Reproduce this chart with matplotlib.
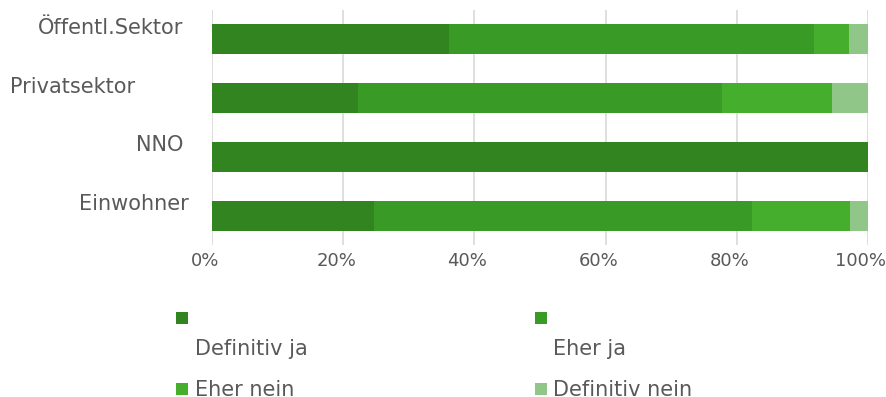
import numpy as np
import matplotlib
matplotlib.use("Agg")
import matplotlib.pyplot as plt
import matplotlib.transforms as mtransforms
from matplotlib.patches import Rectangle

categories = ["Öffentl.Sektor", "Privatsektor", "NNO", "Einwohner"]
series = ["Definitiv ja", "Eher ja", "Eher nein", "Definitiv nein"]
definitiv_ja = [36.1, 22.2, 100.0, 24.7]
eher_ja = [55.7, 55.6, 0.0, 57.6]
eher_nein = [5.3, 16.7, 0.0, 15.0]
definitiv_nein = [2.9, 5.5, 0.0, 2.7]
ticks = [0, 20, 40, 60, 80, 100]
tick_labels = ["0%", "20%", "40%", "60%", "80%", "100%"]

colors = ["#31841f", "#3a9a26", "#45ae2d", "#90c688"]
text_col = "#595959"
grid_col = "#d9d9d9"

plt.rcParams['font.family'] = ['DejaVu Sans']

W, H = 887, 397
fig = plt.figure(figsize=(W / 100, H / 100), dpi=100)
ax = fig.add_axes([212 / W, 1 - 245 / H, 656 / W, 235 / H])

y = np.arange(len(categories))
left = np.zeros(len(categories))
for vals, c in zip([definitiv_ja, eher_ja, eher_nein, definitiv_nein], colors):
    vals = np.array(vals)
    ax.barh(y, vals, left=left, height=0.51, color=c, linewidth=0, zorder=3)
    left += vals

ax.set_xlim(0, 100)
ax.set_ylim(3.5, -0.5)
for s in ax.spines.values():
    s.set_visible(False)
ax.set_xticks(ticks)
ax.set_yticks([])
ax.tick_params(axis='x', length=0, labelbottom=False)
ax.grid(axis='x', color=grid_col, linewidth=1.2, zorder=0)

# category names sit above their bars, right edges not aligned
label_right = [183, 135, 183, 189]
ytrans = ax.get_yaxis_transform()
for yi, name, xr in zip(y, categories, label_right):
    off = mtransforms.ScaledTranslation((xr - 212) / 100, 5.5 / 100, fig.dpi_scale_trans)
    ax.text(0, yi, name, transform=ytrans + off, ha='right', va='baseline',
            fontsize=15, color=text_col)

# percent labels, nudged left of the gridlines
xtrans = ax.get_xaxis_transform()
for t, lab in zip(ticks, tick_labels):
    off = mtransforms.ScaledTranslation(-7 / 100, -7 / 100, fig.dpi_scale_trans)
    ax.text(t, 0, lab, transform=xtrans + off, ha='center', va='top',
            fontsize=13, color=text_col)

# legend
sq = 12
legend_pos = [(176, 312, 195, 349), (535, 312, 553, 349),
              (176, 383, 195, 390), (535, 383, 553, 390)]
for (sx, sy, tx, ty), name, c in zip(legend_pos, series, colors):
    fig.patches.append(Rectangle((sx / W, 1 - (sy + sq) / H), sq / W, sq / H,
                                 transform=fig.transFigure, color=c, linewidth=0))
    fig.text(tx / W, 1 - ty / H, name, ha='left', va='center', fontsize=15, color=text_col)

fig.savefig("out.png", dpi=100)
